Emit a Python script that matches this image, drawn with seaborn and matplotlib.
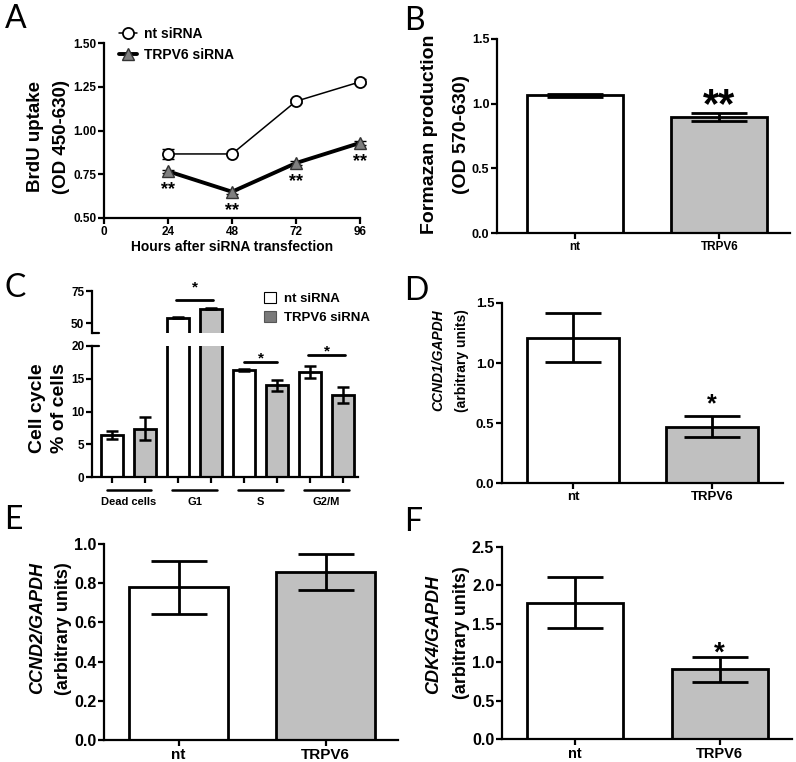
import seaborn as sns
import matplotlib.pyplot as plt
from matplotlib.patches import Patch
import pandas as pd
import numpy as np

sns.set_style('ticks', {'axes.edgecolor': 'black', 'xtick.color': 'black',
                        'ytick.color': 'black', 'text.color': 'black',
                        'axes.labelcolor': 'black'})
plt.rcParams['font.family'] = ['Liberation Sans', 'DejaVu Sans']
plt.rcParams['font.weight'] = 'bold'
plt.rcParams['axes.linewidth'] = 1.6
plt.rcParams['xtick.major.width'] = 1.6
plt.rcParams['ytick.major.width'] = 1.6
plt.rcParams['xtick.major.size'] = 4
plt.rcParams['ytick.major.size'] = 4
plt.rcParams['xtick.major.pad'] = 2
plt.rcParams['ytick.major.pad'] = 1.5

# ---- data ----
hours = [24, 48, 72, 96]
brdu_nt = [0.866, 0.866, 1.167, 1.278]
brdu_nt_err = [0.03, 0.008, 0.012, 0.015]
brdu_trpv6 = [0.767, 0.650, 0.814, 0.929]
brdu_trpv6_err = [0.01, 0.01, 0.01, 0.01]

groups = ['nt', 'TRPV6']
formazan = [1.065, 0.895]
formazan_err = [0.012, 0.032]

phases = ['Dead cells', 'G1', 'S', 'G2/M']
cycle_nt = [6.4, 54.0, 16.3, 16.0]
cycle_nt_err = [0.6, 0.4, 0.15, 0.9]
cycle_trpv6 = [7.4, 61.3, 14.0, 12.5]
cycle_trpv6_err = [1.7, 0.5, 0.85, 1.2]

ccnd1 = [1.21, 0.47]
ccnd1_err = [0.205, 0.09]
ccnd2 = [0.78, 0.857]
ccnd2_err = [0.135, 0.09]
cdk4 = [1.775, 0.905]
cdk4_err = [0.33, 0.16]

bar_colors = ['white', '#c0c0c0']

W, H = 796, 762
fig = plt.figure(figsize=(W / 100, H / 100), dpi=100)


def box(x0, x1, y0, y1):
    # pixel box -> figure fraction rect
    return [x0 / W, 1 - y1 / H, (x1 - x0) / W, (y1 - y0) / H]


def ylab(x, y, text, size, style='normal'):
    fig.text(x / W, 1 - y / H, text, rotation=90, ha='center', va='center',
             fontsize=size, fontstyle=style, fontweight='bold')


def star(ax, x, y, s, size):
    ax.annotate(s, (x, y), xytext=(0, -0.55 * size), textcoords='offset points',
                ha='center', va='baseline', fontsize=size, annotation_clip=False)


def bars(ax, vals, errs, width, cap, ymax, step, xlim, fs_y, fs_x, fmt='%.1f'):
    sns.barplot(x=groups, y=vals, hue=groups, palette=bar_colors, width=width,
                edgecolor='black', linewidth=2, legend=False, ax=ax)
    ax.errorbar(range(2), vals, yerr=errs, fmt='none', ecolor='black',
                elinewidth=2, capsize=cap, capthick=2, zorder=5)
    ax.set_ylim(0, ymax)
    ax.set_yticks(np.arange(0, ymax + 1e-9, step))
    ax.set_yticklabels([fmt % t for t in np.arange(0, ymax + 1e-9, step)], fontsize=fs_y)
    ax.set_xlim(*xlim)
    ax.tick_params(axis='x', labelsize=fs_x)
    ax.set_xlabel('')
    ax.set_ylabel('')
    sns.despine(ax=ax)


# ---- A ----
axA = fig.add_axes(box(104, 360, 43, 218))
axA.errorbar(hours, brdu_nt, yerr=brdu_nt_err, fmt='none', ecolor='black',
             elinewidth=1, capsize=4, capthick=1, zorder=2, clip_on=False)
axA.errorbar(hours, brdu_trpv6, yerr=brdu_trpv6_err, fmt='none', ecolor='black',
             elinewidth=1, capsize=4, capthick=1, zorder=2, clip_on=False)
sns.lineplot(x=hours, y=brdu_nt, color='black', lw=1.1, marker='o', markersize=8,
             markerfacecolor='white', markeredgecolor='black', markeredgewidth=1.3,
             label='nt siRNA', ax=axA, clip_on=False, zorder=3)
sns.lineplot(x=hours, y=brdu_trpv6, color='black', lw=2.8, marker='^', markersize=9,
             markerfacecolor='#7f7f7f', markeredgecolor='#333333', markeredgewidth=1,
             label='TRPV6 siRNA', ax=axA, clip_on=False, zorder=3)
axA.set_xlim(0, 96)
axA.set_ylim(0.5, 1.5)
axA.set_xticks([0, 24, 48, 72, 96])
axA.set_yticks([0.5, 0.75, 1.0, 1.25, 1.5])
axA.set_yticklabels(['0.50', '0.75', '1.00', '1.25', '1.50'])
axA.tick_params(labelsize=8.5)
axA.set_xlabel('Hours after siRNA transfection', fontsize=10, fontweight='bold', labelpad=1)
axA.set_ylabel('')
sns.despine(ax=axA)
for h, v in zip(hours, brdu_trpv6):
    star(axA, h, v - 0.075, '**', 13)
axA.legend(loc='upper left', bbox_to_anchor=(0.06, 1.09), frameon=False,
           borderpad=0, borderaxespad=0, handlelength=1.3, handletextpad=0.5,
           labelspacing=0.5, prop={'size': 10, 'weight': 'bold'})
ylab(36, 137, 'BrdU uptake', 13.5)
ylab(61, 137, '(OD 450-630)', 13.5)

# ---- B ----
axB = fig.add_axes(box(497, 790, 39, 233))
bars(axB, formazan, formazan_err, 0.665, 20, 1.5, 0.5, (-0.54, 1.49), 9, 8.5)
star(axB, 1, 1.07, '**', 30)
ylab(430, 134, 'Formazan production', 14)
ylab(462, 134, '(OD 570-630)', 14)

# ---- C (broken axis) ----
cycle_df = pd.DataFrame({'phase': phases * 2,
                         'siRNA': ['nt siRNA'] * 4 + ['TRPV6 siRNA'] * 4,
                         'pct': cycle_nt + cycle_trpv6})
pos_nt = np.arange(4) - 0.25
pos_tr = np.arange(4) + 0.25
axCu = fig.add_axes(box(92, 358, 291, 333))
axCl = fig.add_axes(box(92, 358, 346, 477))
for ax in (axCu, axCl):
    sns.barplot(data=cycle_df, x='phase', y='pct', hue='siRNA', palette=bar_colors,
                width=1.0, gap=1 / 3, edgecolor='black', linewidth=2, legend=False, ax=ax)
    ax.errorbar(pos_nt, cycle_nt, yerr=cycle_nt_err, fmt='none', ecolor='black',
                elinewidth=1.8, capsize=4.5, capthick=1.8, zorder=5)
    ax.errorbar(pos_tr, cycle_trpv6, yerr=cycle_trpv6_err, fmt='none', ecolor='black',
                elinewidth=1.8, capsize=4.5, capthick=1.8, zorder=5)
    ax.set_xlim(-0.56, 3.475)
    ax.set_xlabel('')
    ax.set_ylabel('')
    sns.despine(ax=ax)
axCu.set_ylim(42.2, 75)
axCu.set_yticks([50, 75])
axCu.spines['bottom'].set_visible(False)
axCu.tick_params(axis='x', bottom=False, labelbottom=False)
axCu.tick_params(axis='y', labelsize=8.5)
axCu.plot([0, 0.025], [0, 0], transform=axCu.transAxes, color='black', lw=1.6, clip_on=False)
axCl.set_ylim(0, 20)
axCl.set_yticks([0, 5, 10, 15, 20])
axCl.tick_params(axis='y', labelsize=8.5)
axCl.set_xticks(np.sort(np.concatenate([pos_nt, pos_tr])))
axCl.set_xticklabels([])
axCl.plot([0, 0.025], [1, 1], transform=axCl.transAxes, color='black', lw=1.6, clip_on=False)
trans = axCl.get_xaxis_transform()
for i, p in enumerate(phases):
    axCl.plot([i - 0.34, i + 0.34], [-0.1, -0.1], transform=trans, color='black',
              lw=1.8, clip_on=False)
    axCl.text(i, -0.19, p, transform=trans, ha='center', va='center', fontsize=8)
# significance bars
axCu.plot([0.71, 1.27], [68, 68], color='black', lw=2, clip_on=False)
star(axCu, 1, 81.2, '*', 11)
axCl.plot([1.75, 2.25], [17.6, 17.6], color='black', lw=2, clip_on=False)
star(axCl, 2, 18.7, '*', 11)
axCl.plot([2.72, 3.28], [18.6, 18.6], color='black', lw=2, clip_on=False)
star(axCl, 3, 19.8, '*', 11)
fig.legend(handles=[Patch(facecolor='white', edgecolor='black', lw=0.8),
                    Patch(facecolor='#7a7a7a', edgecolor='#555555', lw=0.8)],
           labels=['nt siRNA', 'TRPV6 siRNA'], loc='upper left',
           bbox_to_anchor=(264 / W, 1 - 292 / H), frameon=False, borderpad=0,
           borderaxespad=0, handlelength=0.9, handleheight=0.9, handletextpad=0.6,
           labelspacing=0.45, prop={'size': 9.5, 'weight': 'bold'})
ylab(38, 408, 'Cell cycle', 14)
ylab(59, 408, '% of cells', 14)

# ---- D ----
axD = fig.add_axes(box(502, 783, 303, 483))
bars(axD, ccnd1, ccnd1_err, 0.66, 20, 1.5, 0.5, (-0.51, 1.51), 9.5, 9.5)
star(axD, 1, 0.708, '*', 18)
ylab(438, 360, 'CCND1/GAPDH', 10, 'italic')
ylab(462, 361, '(arbitrary units)', 10)

# ---- E ----
axE = fig.add_axes(box(104, 398, 544, 740))
bars(axE, ccnd2, ccnd2_err, 0.673, 20, 1.0, 0.2, (-0.507, 1.493), 11.5, 11)
ylab(38, 628, 'CCND2/GAPDH', 13, 'italic')
ylab(63, 629, '(arbitrary units)', 13)

# ---- F ----
axF = fig.add_axes(box(502, 792, 547, 739))
bars(axF, cdk4, cdk4_err, 0.665, 20, 2.5, 0.5, (-0.505, 1.50), 11.5, 10.5)
star(axF, 1, 1.224, '*', 20)
ylab(434, 635, 'CDK4/GAPDH', 13, 'italic')
ylab(461, 633, '(arbitrary units)', 13)

# ---- panel letters ----
for lx, ly, letter in [(5, 4, 'A'), (404, 6, 'B'), (4, 273, 'C'),
                       (404, 276, 'D'), (4, 505, 'E'), (404, 507, 'F')]:
    fig.text(lx / W, 1 - ly / H, letter, ha='left', va='top', fontsize=23,
             fontweight='normal', family=['Lato', 'DejaVu Sans'])

fig.savefig('out.png', dpi=100)
